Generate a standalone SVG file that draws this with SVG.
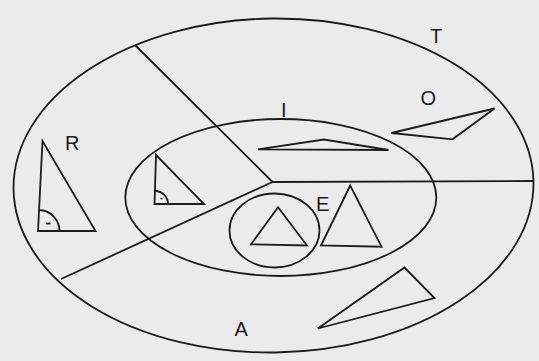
<svg xmlns="http://www.w3.org/2000/svg" width="539" height="361" viewBox="0 0 539 361">
<style>
.s{fill:none;stroke:#1c1c1c;stroke-width:1.8;stroke-linejoin:miter}
.t{font-family:"Liberation Sans",Arial,sans-serif;font-size:20px;fill:#1c1c1c}
</style>
<rect x="0" y="0" width="539" height="361" fill="#ebebeb"/>
<g id="T">
<ellipse class="s" cx="273.5" cy="185.5" rx="260" ry="167" transform="rotate(-0.8 273.5 185.5)"/>
<text class="t" x="430" y="42.5">T</text>
</g>
<g id="I">
<ellipse class="s" cx="280.8" cy="197.5" rx="155.5" ry="78.5"/>
<text class="t" x="281" y="116.5">I</text>
</g>
<g id="E">
<ellipse class="s" cx="274.5" cy="230.5" rx="45" ry="37"/>
<text class="t" x="316" y="211">E</text>
</g>
<g id="connectors">
<path class="s" d="M135,45 L272.5,182 L533.5,181"/>
<path class="s" d="M272.5,182 L61,279"/>
</g>
<g id="R">
<text class="t" x="65" y="149.5">R</text>
<polygon class="s" points="42.5,141 38,231 95.5,231"/>
<path class="s" d="M39,210 A21 21 0 0 1 59.5 231"/>
<path class="s" d="M46,223.5 H50.5" stroke-width="1.5"/>
</g>
<g id="tri-right-small">
<polygon class="s" points="156,155 154.5,204 204,204"/>
<path class="s" d="M155,191 A13 13 0 0 1 168 204"/>
<circle cx="161.5" cy="198.5" r="1.1" fill="#1c1c1c"/>
</g>
<g id="tri-isosceles-flat">
<polygon class="s" points="258,149.3 324,139.5 388.5,150"/>
</g>
<g id="O">
<text class="t" x="420.5" y="105">O</text>
<polygon class="s" points="391.5,133 494.5,108.5 452.5,139.3"/>
</g>
<g id="tri-equilateral">
<polygon class="s" points="278,207.3 251,244.3 307,245.5"/>
</g>
<g id="tri-isosceles">
<polygon class="s" points="350.2,185.5 321,245.5 381.5,246.7"/>
</g>
<g id="A">
<text class="t" x="234.5" y="335.5">A</text>
<polygon class="s" points="317.8,328.5 404.5,267.5 434.5,298"/>
</g>
</svg>
